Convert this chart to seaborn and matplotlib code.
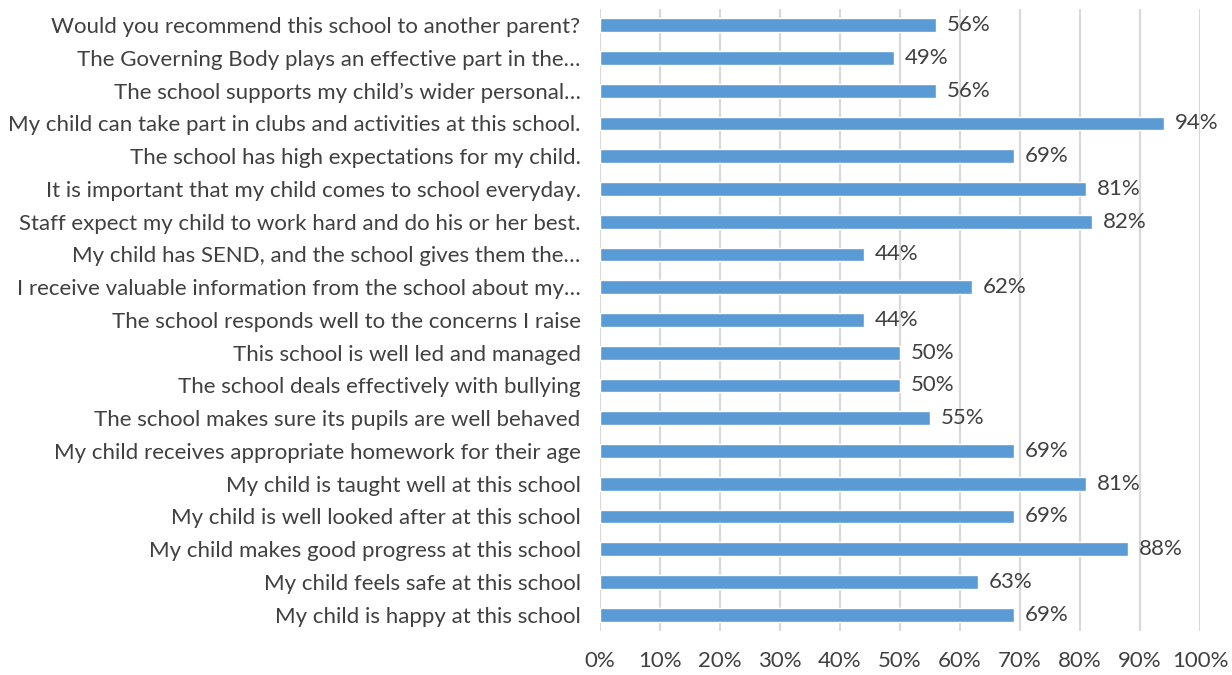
import matplotlib
matplotlib.use("Agg")
import matplotlib.pyplot as plt
import seaborn as sns
import pandas as pd

questions = [
    "Would you recommend this school to another parent?",
    "The Governing Body plays an effective part in the\u2026",
    "The school supports my child\u2019s wider personal\u2026",
    "My child can take part in clubs and activities at this school.",
    "The school has high expectations for my child.",
    "It is important that my child comes to school everyday.",
    "Staff expect my child to work hard and do his or her best.",
    "My child has SEND, and the school gives them the\u2026",
    "I receive valuable information from the school about my\u2026",
    "The school responds well to the concerns I raise",
    "This school is well led and managed",
    "The school deals effectively with bullying",
    "The school makes sure its pupils are well behaved",
    "My child receives appropriate homework for their age",
    "My child is taught well at this school",
    "My child is well looked after at this school",
    "My child makes good progress at this school",
    "My child feels safe at this school",
    "My child is happy at this school",
]
percent = [56, 49, 56, 94, 69, 81, 82, 44, 62, 44, 50, 50, 55, 69, 81, 69, 88, 63, 69]
x_ticks = [0, 10, 20, 30, 40, 50, 60, 70, 80, 90, 100]

df = pd.DataFrame({"question": questions, "percent": percent})

sns.set_theme(style="white")
plt.rcParams["font.family"] = ["Lato", "DejaVu Sans"]
text_color = "#404040"
fs = 16

fig = plt.figure(figsize=(12.32, 6.75), dpi=100)
ax = fig.add_axes([0.487, 0.065, 0.487, 0.922])

sns.barplot(data=df, x="percent", y="question", orient="h", color="#5B9BD5",
            saturation=1, width=0.42, ax=ax, order=questions)

ax.set_xlim(0, 100)
ax.set_xticks(x_ticks)
ax.set_xticklabels([f"{t}%" for t in x_ticks], fontsize=fs, color=text_color)
ax.tick_params(axis="y", labelsize=fs, labelcolor=text_color, length=0, pad=14)
ax.tick_params(axis="x", length=0, pad=14)
ax.set_xlabel("")
ax.set_ylabel("")
ax.xaxis.grid(True, color="#D9D9D9", linewidth=1.6)
ax.set_axisbelow(True)
for s in ax.spines.values():
    s.set_visible(False)

for p, v in zip(ax.patches, percent):
    y = p.get_y() + p.get_height() / 2
    ax.text(p.get_width() + 1.8, y, f"{v}%", va="center", ha="left",
            fontsize=fs, color=text_color)

fig.savefig("out.png", dpi=100)
